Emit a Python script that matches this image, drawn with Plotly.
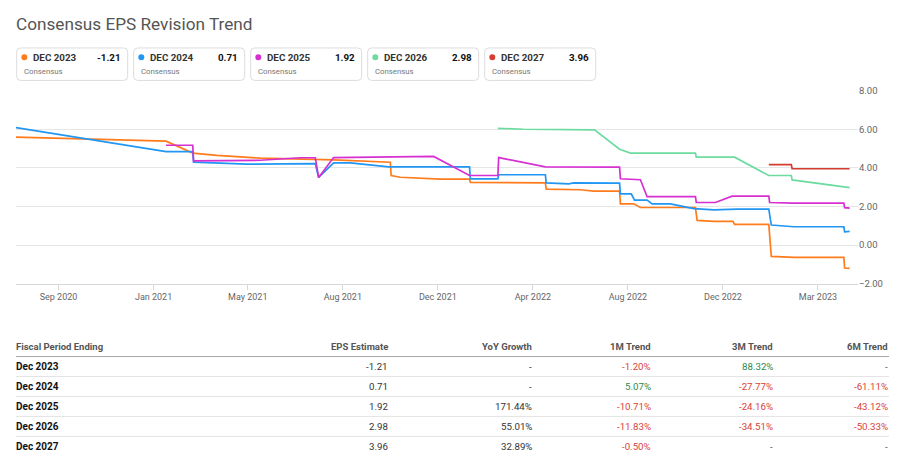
import plotly.graph_objects as go

# page body has an 8px margin; the photographed page is also slightly squeezed vertically,
# so page positions are calibrated below
OFF = 8
W, H = 908 - 2 * OFF, 468 - 2 * OFF
Y_OFF, Y_SCALE = 13.0, 0.977

# ---------------- data ----------------
series_names = ["DEC 2023", "DEC 2024", "DEC 2025", "DEC 2026", "DEC 2027"]
series_colors = ["#ff7b1c", "#2196f3", "#d62fd2", "#6ddb9f", "#d43d30"]
latest_values = ["-1.21", "0.71", "1.92", "2.98", "3.96"]

dec2023_dates = ["2020-07-12", "2021-01-08", "2021-02-09", "2021-03-10", "2021-05-01", "2021-06-18",
                 "2021-07-06", "2021-07-28", "2021-10-04", "2021-10-05", "2021-10-16", "2021-12-03",
                 "2022-01-07", "2022-01-08", "2022-04-08", "2022-04-09", "2022-05-20", "2022-06-05",
                 "2022-07-06", "2022-07-07", "2022-07-23", "2022-07-31", "2022-10-05", "2022-10-07",
                 "2022-10-27", "2022-11-19", "2022-11-21", "2023-01-01", "2023-01-04", "2023-01-31",
                 "2023-04-01", "2023-04-02", "2023-04-08"]
dec2023_eps = [5.60, 5.39, 4.77, 4.65, 4.51, 4.46,
               4.42, 4.42, 4.30, 3.61, 3.52, 3.42,
               3.42, 3.25, 3.23, 2.90, 2.87, 2.80,
               2.80, 2.14, 2.14, 1.95, 1.95, 1.28,
               1.23, 1.23, 1.07, 1.07, -0.59, -0.64,
               -0.64, -1.19, -1.21]

dec2024_dates = ["2020-07-12", "2021-01-08", "2021-02-09", "2021-02-10", "2021-04-15", "2021-07-06",
                 "2021-07-10", "2021-07-28", "2021-08-17", "2021-10-02", "2022-01-07", "2022-01-08",
                 "2022-02-10", "2022-02-11", "2022-04-08", "2022-04-09", "2022-05-06", "2022-05-12",
                 "2022-07-06", "2022-07-07", "2022-07-20", "2022-07-24", "2022-08-08", "2022-08-14",
                 "2022-09-05", "2022-10-03", "2022-10-27", "2022-11-24", "2023-01-01", "2023-01-04",
                 "2023-01-31", "2023-04-01", "2023-04-02", "2023-04-08"]
dec2024_eps = [6.10, 4.85, 4.85, 4.30, 4.20, 4.23,
               3.51, 4.26, 4.26, 4.06, 4.06, 3.44,
               3.44, 3.65, 3.65, 3.23, 3.18, 3.23,
               3.21, 2.66, 2.66, 2.33, 2.33, 2.14,
               2.14, 1.89, 1.83, 1.87, 1.87, 1.04,
               0.95, 0.95, 0.69, 0.71]

dec2025_dates = ["2021-01-08", "2021-02-09", "2021-02-10", "2021-05-01", "2021-06-18", "2021-07-06",
                 "2021-07-10", "2021-07-28", "2021-11-25", "2022-01-07", "2022-02-10", "2022-02-11",
                 "2022-04-08", "2022-07-06", "2022-07-07", "2022-07-31", "2022-08-08", "2022-10-05",
                 "2022-10-06", "2022-10-29", "2022-11-18", "2023-01-01", "2023-01-02", "2023-01-31",
                 "2023-04-01", "2023-04-02", "2023-04-08"]
dec2025_eps = [5.18, 5.18, 4.37, 4.40, 4.53, 4.53,
               3.51, 4.54, 4.60, 3.61, 3.61, 4.54,
               4.06, 4.04, 3.44, 3.39, 2.51, 2.51,
               2.21, 2.21, 2.54, 2.54, 2.21, 2.18,
               2.18, 1.94, 1.92]

dec2026_dates = ["2022-02-10", "2022-03-13", "2022-06-06", "2022-07-06", "2022-07-19", "2022-10-05",
                 "2022-10-06", "2022-11-21", "2023-01-01", "2023-01-28", "2023-01-29", "2023-04-08"]
dec2026_eps = [6.06, 6.01, 5.98, 4.97, 4.77, 4.77,
               4.56, 4.56, 3.61, 3.61, 3.38, 2.98]

dec2027_dates = ["2023-01-01", "2023-01-28", "2023-01-29", "2023-04-08"]
dec2027_eps = [4.17, 4.17, 3.97, 3.96]

x_tick_dates = ["2020-09-01", "2020-12-24", "2021-04-16", "2021-08-08", "2021-11-30",
                "2022-03-24", "2022-07-16", "2022-11-07", "2023-03-01"]
x_tick_labels = ["Sep 2020", "Jan 2021", "May 2021", "Aug 2021", "Dec 2021",
                 "Apr 2022", "Aug 2022", "Dec 2022", "Mar 2023"]
y_tick_values = [-2, 0, 2, 4, 6, 8]

table_headers = ["Fiscal Period Ending", "EPS Estimate", "YoY Growth", "1M Trend", "3M Trend", "6M Trend"]
table_periods = ["Dec 2023", "Dec 2024", "Dec 2025", "Dec 2026", "Dec 2027"]
table_eps = ["-1.21", "0.71", "1.92", "2.98", "3.96"]
table_yoy = ["-", "-", "171.44%", "55.01%", "32.89%"]
table_1m = ["-1.20%", "5.07%", "-10.71%", "-11.83%", "-0.50%"]
table_3m = ["88.32%", "-27.77%", "-24.16%", "-34.51%", "-"]
table_6m = ["-", "-61.11%", "-43.12%", "-50.33%", "-"]

# ---------------- figure ----------------
FONT = "Roboto"


def px(x):
    return (x - OFF) / W


def py(y):
    return 1 - ((y - Y_OFF) / Y_SCALE) / H


fig = go.Figure()
all_dates = [dec2023_dates, dec2024_dates, dec2025_dates, dec2026_dates, dec2027_dates]
all_eps = [dec2023_eps, dec2024_eps, dec2025_eps, dec2026_eps, dec2027_eps]
for name, color, d, v in zip(series_names, series_colors, all_dates, all_eps):
    fig.add_trace(go.Scatter(x=d, y=v, mode="lines", name=name,
                             line=dict(color=color, width=1.7), hoverinfo="x+y+name"))

plot_l, plot_r, plot_t, plot_b = 16, 858, 90, 283

fig.update_layout(
    width=W, height=H,
    margin=dict(l=0, r=0, t=0, b=0),
    paper_bgcolor="white", plot_bgcolor="white",
    showlegend=False,
    font=dict(family=FONT, color="#555"),
    xaxis=dict(
        type="date", domain=[px(plot_l), px(plot_r)],
        range=["2020-07-12", "2023-04-18"],
        tickmode="array", tickvals=x_tick_dates, ticktext=x_tick_labels,
        ticks="outside", ticklen=5, tickcolor="#d8d8d8", tickwidth=1,
        showgrid=False, showline=True, linecolor="#d8d8d8", linewidth=1,
        tickfont=dict(size=9, color="#666", family=FONT),
        zeroline=False, fixedrange=True,
    ),
    yaxis=dict(
        domain=[py(plot_b), py(plot_t)], side="right",
        range=[-2, 8], tickmode="array", tickvals=y_tick_values,
        tickformat=".2f", showgrid=True, gridcolor="#e6e6e6", gridwidth=1,
        zeroline=False, showline=False, ticks="",
        tickfont=dict(size=9.5, color="#666", family=FONT),
        fixedrange=True,
    ),
)

annotations = []
shapes = []

# title
annotations.append(dict(x=px(14), y=py(23), xref="paper", yref="paper", xanchor="left", yanchor="middle",
                        text="Consensus EPS Revision Trend", showarrow=False,
                        font=dict(size=17.2, color="#555", family=FONT)))


def rrect(x0, y0, x1, y1, r):
    rx, ry = r / W, r / H
    X0, X1 = px(x0), px(x1)
    Y0, Y1 = py(y0), py(y1)  # Y0 top (larger), Y1 bottom
    return (f"M {X0+rx},{Y0} L {X1-rx},{Y0} Q {X1},{Y0} {X1},{Y0-ry} "
            f"L {X1},{Y1+ry} Q {X1},{Y1} {X1-rx},{Y1} L {X0+rx},{Y1} "
            f"Q {X0},{Y1} {X0},{Y1+ry} L {X0},{Y0-ry} Q {X0},{Y0} {X0+rx},{Y0} Z")


# legend cards
for i, (name, color, val) in enumerate(zip(series_names, series_colors, latest_values)):
    bx0 = 16.7 + i * 117.0
    bx1 = bx0 + 111
    shapes.append(dict(type="path", path=rrect(bx0, 47, bx1, 79.5, 4), xref="paper", yref="paper",
                       line=dict(color="#dcdcdc", width=1), fillcolor="white", layer="above"))
    shapes.append(dict(type="circle", xref="paper", yref="paper",
                       x0=px(bx0 + 4.6), x1=px(bx0 + 10.6), y0=py(53.3), y1=py(59.3),
                       fillcolor=color, line=dict(width=0), layer="above"))
    annotations.append(dict(x=px(bx0 + 14), y=py(56.5), xref="paper", yref="paper",
                            xanchor="left", yanchor="middle", showarrow=False,
                            text=f"<b>{name}</b>", font=dict(size=9.8, color="#333", family=FONT)))
    annotations.append(dict(x=px(bx1 - 5), y=py(56.5), xref="paper", yref="paper",
                            xanchor="right", yanchor="middle", showarrow=False,
                            text=f"<b>{val}</b>", font=dict(size=9.8, color="#111", family=FONT)))
    annotations.append(dict(x=px(bx0 + 5), y=py(70.5), xref="paper", yref="paper",
                            xanchor="left", yanchor="middle", showarrow=False,
                            text="Consensus", font=dict(size=7.8, color="#777", family=FONT)))

# table
col_right = [390, 534, 653, 775, 890]
tbl_l = 14
header_y = 346
row_y = [366, 386, 406, 426, 446]

annotations.append(dict(x=px(tbl_l), y=py(header_y), xref="paper", yref="paper", xanchor="left",
                        yanchor="middle", showarrow=False, text=f"<b>{table_headers[0]}</b>",
                        font=dict(size=9.5, color="#555", family=FONT)))
for cr, h in zip(col_right, table_headers[1:]):
    annotations.append(dict(x=px(cr), y=py(header_y), xref="paper", yref="paper", xanchor="right",
                            yanchor="middle", showarrow=False, text=f"<b>{h}</b>",
                            font=dict(size=9.5, color="#555", family=FONT)))
shapes.append(dict(type="line", xref="paper", yref="paper", x0=px(16), x1=px(889),
                   y0=py(356), y1=py(356), line=dict(color="#a8a8a8", width=1)))
for k in range(4):
    ly = row_y[k] + 10
    shapes.append(dict(type="line", xref="paper", yref="paper", x0=px(16), x1=px(889),
                       y0=py(ly), y1=py(ly), line=dict(color="#e4e4e4", width=1)))


def trend_color(s):
    if s.strip() == "-":
        return "#555"
    return "#d9423b" if s.startswith("-") else "#2b8a4f"


for k, yv in enumerate(row_y):
    annotations.append(dict(x=px(tbl_l), y=py(yv), xref="paper", yref="paper", xanchor="left",
                            yanchor="middle", showarrow=False, text=f"<b>{table_periods[k]}</b>",
                            font=dict(size=10, color="#111", family=FONT)))
    cells = [table_eps[k], table_yoy[k], table_1m[k], table_3m[k], table_6m[k]]
    colors = ["#333", "#333", trend_color(table_1m[k]), trend_color(table_3m[k]), trend_color(table_6m[k])]
    for cr, txt, c in zip(col_right, cells, colors):
        annotations.append(dict(x=px(cr), y=py(yv), xref="paper", yref="paper", xanchor="right",
                                yanchor="middle", showarrow=False, text=txt,
                                font=dict(size=9.7, color=c, family=FONT)))

fig.update_layout(annotations=annotations, shapes=shapes)
fig.write_html("out.html")
